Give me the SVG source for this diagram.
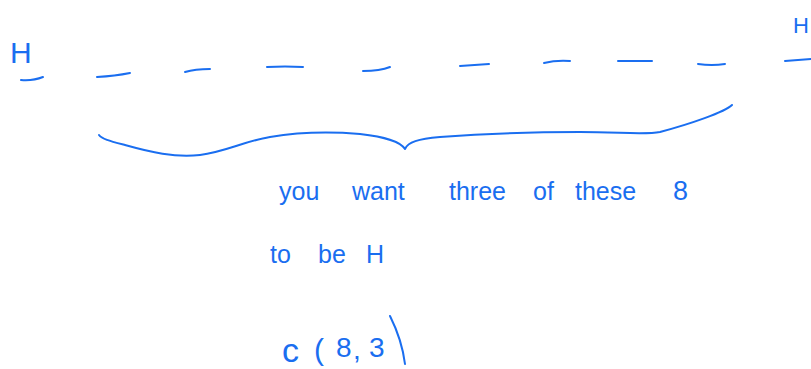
<svg xmlns="http://www.w3.org/2000/svg" width="811" height="369" viewBox="0 0 811 369">
<style>
.ink{fill:none;stroke:#1a6ef0;stroke-width:2;stroke-linecap:round;stroke-linejoin:round}
.t{fill:#1a6ef0;font-family:"Liberation Sans",Arial,sans-serif}
.w{font-size:25px}
</style>
<rect width="811" height="369" fill="#ffffff"/>
<g id="labels-H">
<text class="t" x="10" y="63" font-size="30">H</text>
<text class="t" x="793" y="33" font-size="22">H</text>
</g>
<g id="slots">
<path class="ink" d="M21,80 Q33,81 43,77"/>
<path class="ink" d="M97,77 Q115,76 130,73"/>
<path class="ink" d="M185,72 Q195,69 210,69"/>
<path class="ink" d="M267,67 Q285,66 303,67"/>
<path class="ink" d="M363,71 Q380,71 390,67"/>
<path class="ink" d="M460,66 L489,64"/>
<path class="ink" d="M544,63 Q556,60 570,61"/>
<path class="ink" d="M618,61 L652,61"/>
<path class="ink" d="M698,64 Q712,66 725,64"/>
<path class="ink" d="M785,61 L811,59"/>
</g>
<g id="brace">
<path class="ink" d="M99,135 C102,139 110,141 125,145 C150,152 175,158 200,155 C225,152 245,141 270,137 C300,132 335,132 360,134 C385,137 400,141 405,149 C408,142 418,139 440,137 C480,134 530,132 580,132 C620,132 645,135 660,132 C690,124 725,112 732,105"/>
</g>
<g id="note">
<text class="t w" x="279" y="200">you</text>
<text class="t w" x="352" y="200">want</text>
<text class="t w" x="449" y="200">three</text>
<text class="t w" x="533" y="200">of</text>
<text class="t w" x="575" y="200">these</text>
<text class="t" font-size="27" x="673" y="200">8</text>
<text class="t w" x="270" y="263">to</text>
<text class="t w" x="318" y="263">be</text>
<text class="t" font-size="25" x="366" y="263">H</text>
</g>
<g id="formula">
<text class="t" font-size="34" x="282" y="362">c</text>
<text class="t" font-size="30" x="314" y="360">(</text>
<text class="t" font-size="28" x="336" y="357">8</text>
<text class="t" font-size="28" x="353" y="359">,</text>
<text class="t" font-size="28" x="369" y="357">3</text>
<path class="ink" d="M390,316 Q402,340 405,364"/>
</g>
</svg>
